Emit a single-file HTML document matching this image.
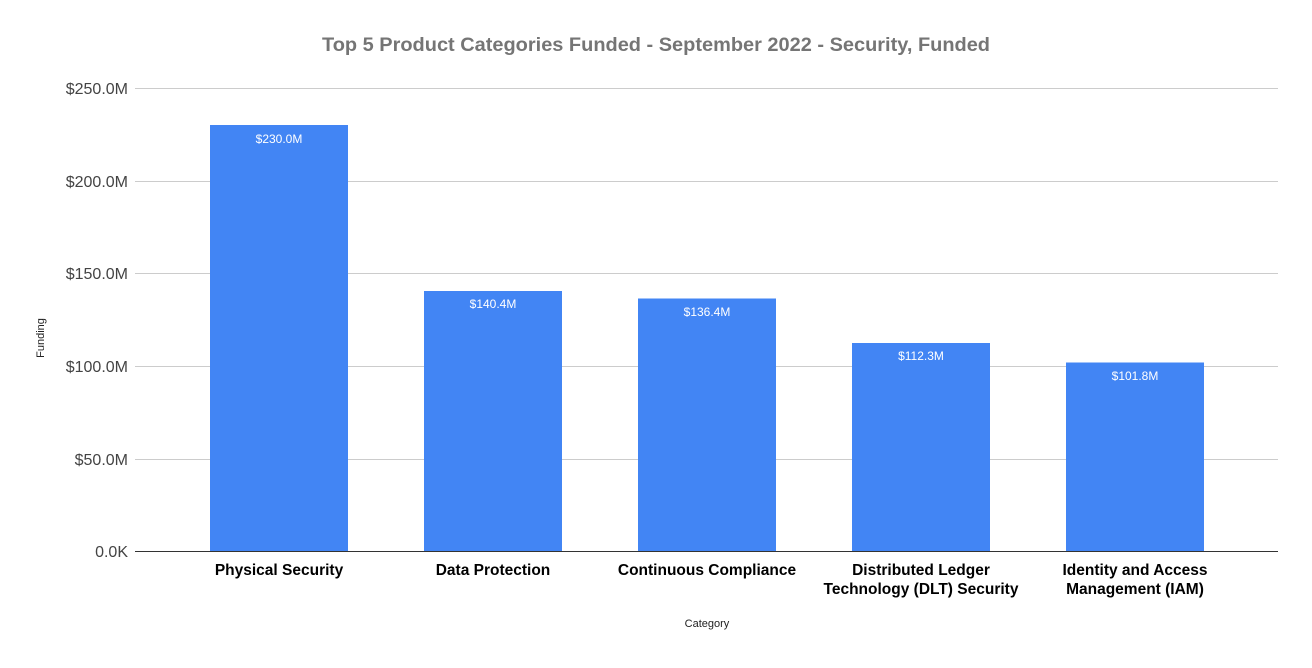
<!DOCTYPE html>
<html><head><style>body{margin:0;background:#fff}</style></head><body>
<svg width="1312" height="663" xmlns="http://www.w3.org/2000/svg" font-family="Liberation Sans, Arial, sans-serif">
<rect width="1312" height="663" fill="#fff"/>
<text x="656" y="51" text-anchor="middle" font-size="19" font-weight="bold" fill="#757575" textLength="668" lengthAdjust="spacingAndGlyphs">Top 5 Product Categories Funded - September 2022 - Security, Funded</text>
<g stroke="#cccccc" stroke-width="1">
<line x1="135" x2="1278" y1="88.5" y2="88.5"/><line x1="135" x2="1278" y1="181.5" y2="181.5"/><line x1="135" x2="1278" y1="273.5" y2="273.5"/><line x1="135" x2="1278" y1="366.5" y2="366.5"/><line x1="135" x2="1278" y1="459.5" y2="459.5"/>
</g>
<g font-size="16" fill="#444" text-anchor="end">
<text x="128" y="94">$250.0M</text><text x="128" y="187">$200.0M</text><text x="128" y="279">$150.0M</text><text x="128" y="372">$100.0M</text><text x="128" y="465">$50.0M</text><text x="128" y="557">0.0K</text>
</g>
<g fill="#4285f4">
<rect x="210" y="125" width="138" height="426"/><rect x="424" y="291" width="138" height="260"/><rect x="638" y="298.5" width="138" height="252.5"/><rect x="852" y="343" width="138" height="208"/><rect x="1066" y="362.5" width="138" height="188.5"/>
</g>
<line x1="135" x2="1278" y1="551.5" y2="551.5" stroke="#333"/>
<g font-size="12" fill="#fff" text-anchor="middle">
<text x="279" y="143">$230.0M</text><text x="493" y="308">$140.4M</text><text x="707" y="316">$136.4M</text><text x="921" y="360">$112.3M</text><text x="1135" y="380">$101.8M</text>
</g>
<g font-size="15.5" font-weight="bold" fill="#000" text-anchor="middle">
<text x="279" y="575">Physical Security</text><text x="493" y="575">Data Protection</text><text x="707" y="575">Continuous Compliance</text>
<text x="921" y="575">Distributed Ledger</text><text x="921" y="594">Technology (DLT) Security</text>
<text x="1135" y="575">Identity and Access</text><text x="1135" y="594">Management (IAM)</text>
</g>
<text x="707" y="627" font-size="11" text-anchor="middle" fill="#222">Category</text>
<text transform="translate(44,338) rotate(-90)" font-size="11" text-anchor="middle" fill="#222">Funding</text>
</svg>
</body></html>
